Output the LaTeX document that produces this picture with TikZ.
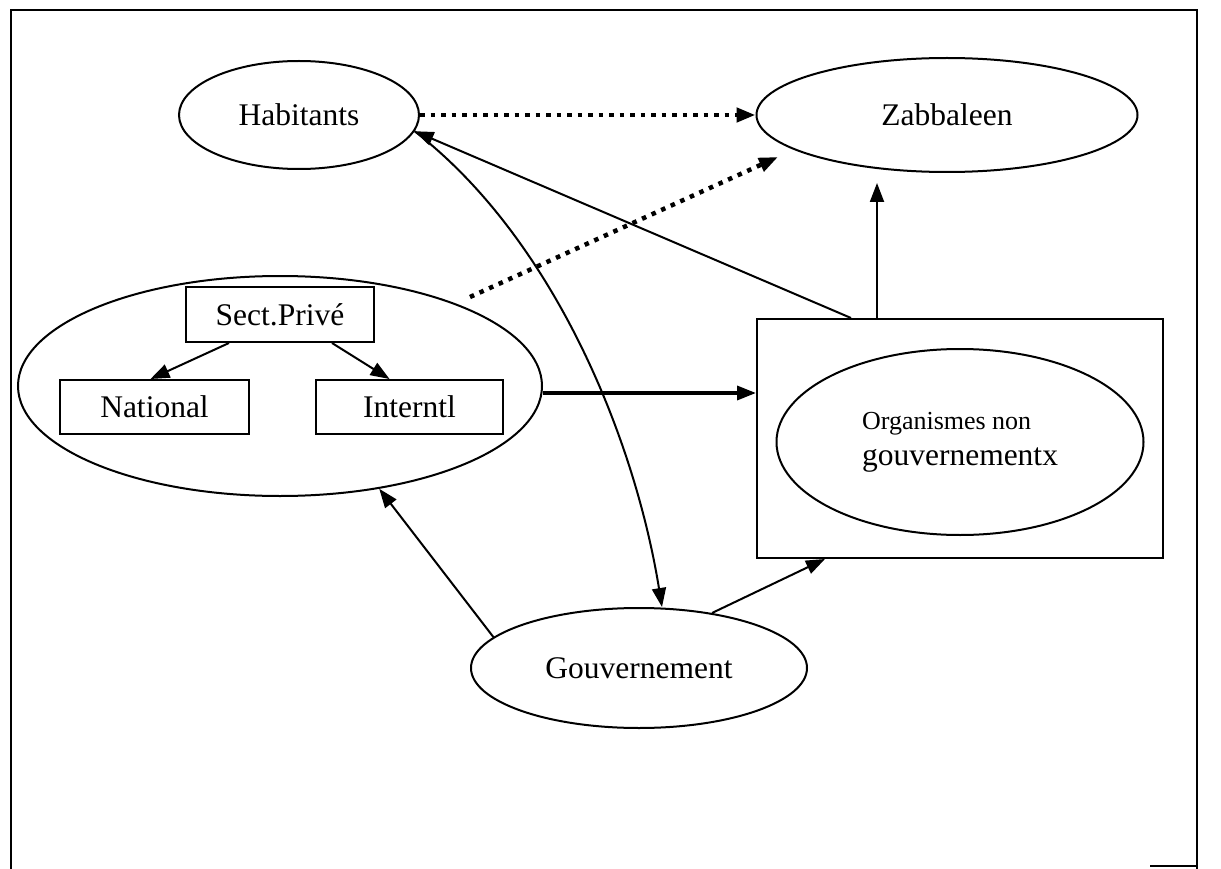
\documentclass[tikz,border=0pt]{standalone}
\usepackage{fontspec}
\setmainfont{Liberation Serif}
\usetikzlibrary{shapes.geometric, arrows.meta, positioning}

\begin{document}
\begin{tikzpicture}[x=1pt, y=-1pt, line width=2pt,
    every node/.style={font=\fontsize{31.5}{36}\selectfont},
    oval/.style={draw, ellipse, inner sep=0pt},
    box/.style={draw, rectangle, inner sep=0pt},
    link/.style={-{Triangle[length=19pt,width=14pt]}},
    dotlink/.style={link, line width=4.5pt, dash pattern=on 4.5pt off 6pt},
    boldlink/.style={link, line width=3.5pt}]
   \useasboundingbox (0,0) rectangle (1221,869);
   % frame
   \draw[line width=2pt] (11,869) -- (11,10) -- (1197,10) -- (1197,869);
   \draw (1150,866) -- (1197,866);

   \node[oval, minimum width=240pt, minimum height=108pt] (hab) at (299,115) {Habitants};
   \node[oval, minimum width=381pt, minimum height=114pt] (zab) at (947,115) {Zabbaleen};
   \node[oval, minimum width=524pt, minimum height=220pt] (spe) at (280,386) {};
   \node[box, minimum width=188pt, minimum height=55pt] (sect) at (280,314.5) {Sect.Privé};
   \node[box, minimum width=189pt, minimum height=54pt] (nat) at (154.5,407) {National};
   \node[box, minimum width=187pt, minimum height=54pt] (intl) at (409.5,407) {Interntl};
   \node[box, minimum width=406pt, minimum height=239pt] (ongbox) at (960,438.5) {};
   \node[oval, minimum width=367pt, minimum height=186pt, align=left] (ong) at (960,442)
      {{\fontsize{26}{30}\selectfont Organismes non}\\gouvernementx};
   \node[oval, minimum width=336pt, minimum height=120pt] (gouv) at (639,668) {Gouvernement};

   % dotted links
   \coordinate (d1) at (470,297);
   \coordinate (d2) at (778,157);
   \draw[dotlink] (hab.east) -- (zab.west);
   \draw[dotlink] (d1) -- (d2);

   % inside the private sector
   \draw[link] ([xshift=-51pt]sect.south) -- ([xshift=-4pt]nat.north);
   \draw[link] ([xshift=52pt]sect.south) -- ([xshift=-20pt]intl.north);

   \path ([yshift=-7pt]spe.east) coordinate (a1);
   \draw[boldlink] (a1) -- (a1 -| ongbox.west);

   \draw[link] ([xshift=-109pt]ongbox.north) -- (hab.-8);
   \draw[link, shorten >=10pt] ([xshift=-83pt]ongbox.north) -- ([xshift=-83pt]ongbox.north |- zab.south);
   \draw[link] (hab.-8) .. controls (555,240) and (635,440) .. ([xshift=23pt]gouv.north);
   \draw[link] (gouv.168) -- (spe.-46);
   \draw[link] (gouv.37) -- ([xshift=-135pt]ongbox.south);
\end{tikzpicture}
\end{document}
